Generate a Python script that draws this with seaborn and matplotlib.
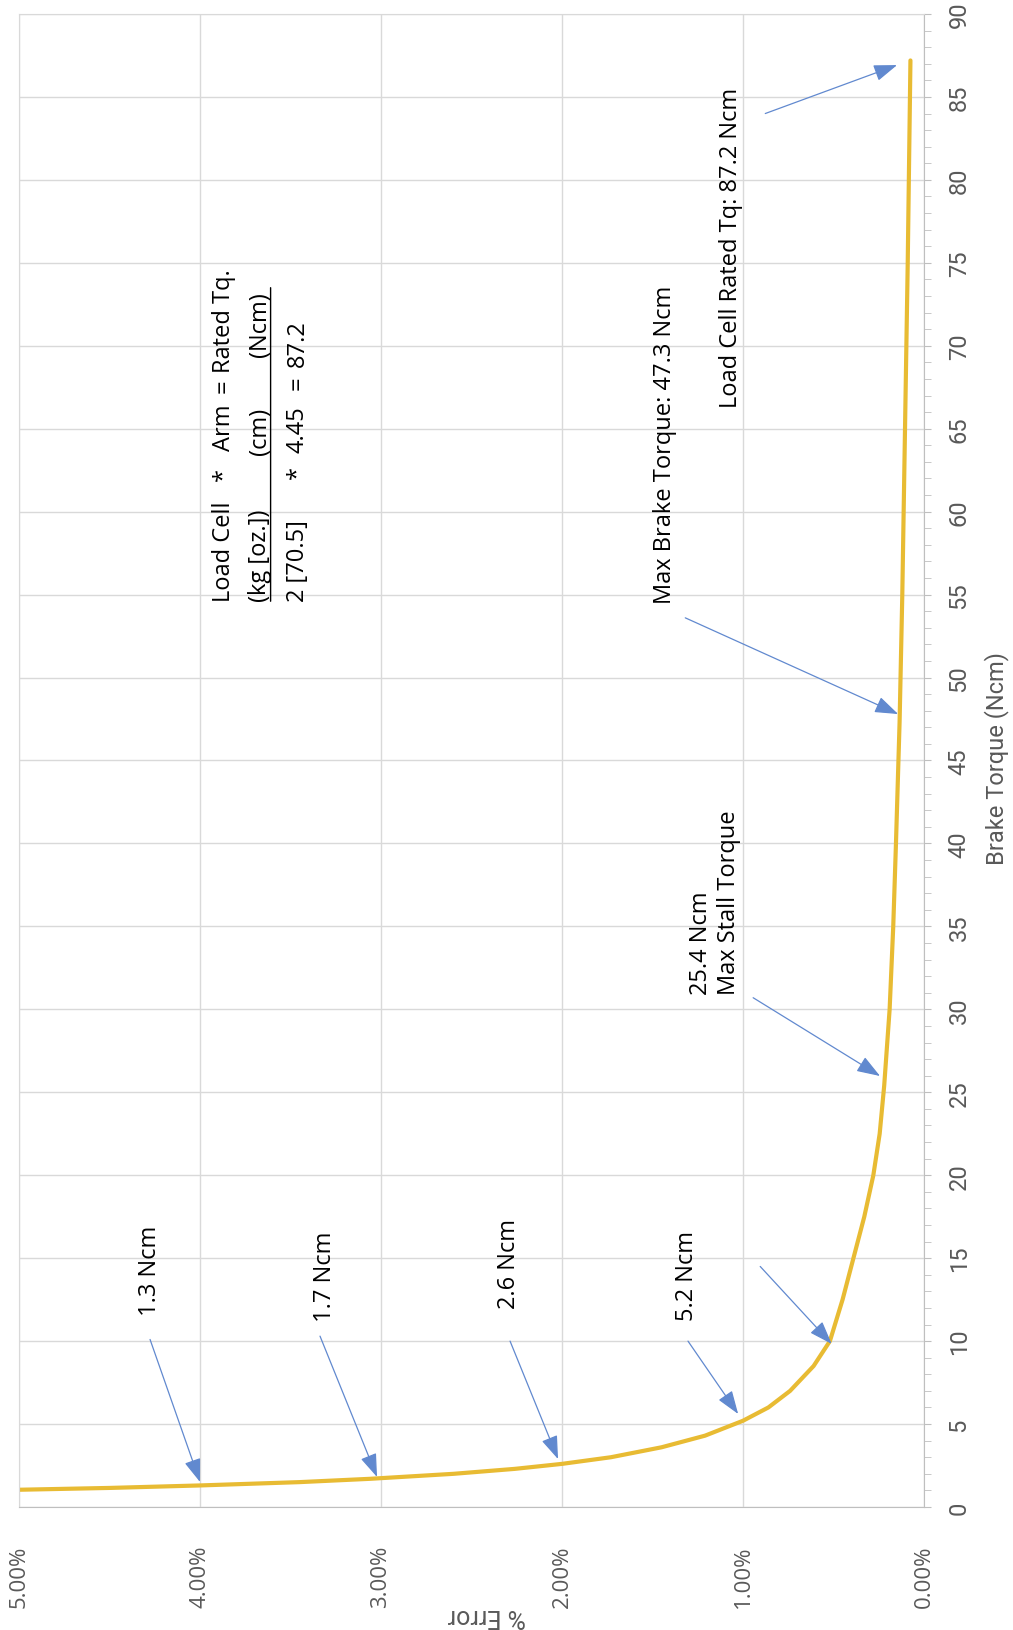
import matplotlib.pyplot as plt
import seaborn as sns
import pandas as pd
from matplotlib import font_manager
from matplotlib.ticker import PercentFormatter, MultipleLocator

sns.set_style("white")

installed = {f.name for f in font_manager.fontManager.ttflist}
narrow = "Liberation Sans Narrow" if "Liberation Sans Narrow" in installed else "Roboto"

plt.rcParams.update({
    "font.family": ["Open Sans", "DejaVu Sans"],
    "font.size": 17,
})

# values (torque in Ncm, error in %)
torque_ncm = [1.04, 1.15, 1.3, 1.5, 1.7, 2.0, 2.3, 2.6, 3.0, 3.6, 4.3, 5.2, 6.0, 7.0, 8.5,
              10.0, 12.5, 15.0, 17.5, 20.0, 22.5, 25.4, 30.0, 35.0, 40.0, 47.3, 55.0,
              65.0, 75.0, 87.2]
error_pct = [5.00, 4.50, 4.00, 3.45, 3.06, 2.60, 2.26, 2.00, 1.73, 1.45, 1.21, 1.00, 0.86,
             0.74, 0.61, 0.52, 0.45, 0.39, 0.33, 0.28, 0.245, 0.22, 0.19, 0.17, 0.155,
             0.135, 0.12, 0.105, 0.09, 0.075]

error_ticks = [0, 1, 2, 3, 4, 5]
torque_ticks = list(range(0, 95, 5))

df = pd.DataFrame({"torque": torque_ncm, "error": error_pct})

fig = plt.figure(figsize=(10.13, 16.31), dpi=100)
ax = fig.add_axes([0.01876, 0.07541, 0.8934, 0.9154])

sns.lineplot(data=df, x="error", y="torque", sort=False, estimator=None,
             color="#e8bb33", lw=3.0, ax=ax)

ax.set_xlim(5, 0)
ax.set_ylim(0, 90)
ax.set_xticks(error_ticks)
ax.set_yticks(torque_ticks)
ax.xaxis.set_minor_locator(MultipleLocator(0.2))
ax.yaxis.set_minor_locator(MultipleLocator(1))
ax.xaxis.set_major_formatter(PercentFormatter(xmax=100, decimals=2))
ax.grid(True, which="major", color="#d9d9d9", lw=1.0)

ax.yaxis.tick_right()
ax.tick_params(axis="x", which="both", direction="out", length=5, color="#bfbfbf",
               labelcolor="#595959", labelrotation=90, labelsize=16, pad=22)
ax.tick_params(axis="y", which="both", direction="out", length=5, color="#bfbfbf",
               labelcolor="#595959", labelrotation=90, labelsize=17, pad=12,
               left=False, right=True, labelleft=False, labelright=True)
for lab in ax.get_yticklabels():
    lab.set_family(narrow)
    lab.set_va("center")

for side in ["right", "bottom"]:
    ax.spines[side].set_color("#bfbfbf")
for side in ["left", "top"]:
    ax.spines[side].set_color("#d9d9d9")

ax.set_xlabel("% Error", rotation=180, fontsize=18, color="#595959", family=narrow)
ax.xaxis.label.set_va("center")
ax.xaxis.set_label_coords(0.517, -0.072)
ax.yaxis.set_label_position("right")
ax.set_ylabel("Brake Torque (Ncm)", rotation=90, fontsize=17, color="#595959", family=narrow)
ax.yaxis.label.set_va("center")
ax.yaxis.set_label_coords(1.0796, 0.5017)

# callouts: (text, text pos, arrow tail, arrow head)
arrow_kw = dict(arrowstyle="-|>,head_length=0.9,head_width=0.32", color="#6189cf",
                lw=0.9, mutation_scale=16, shrinkA=0, shrinkB=0)
callouts = [
    ("1.3 Ncm", (4.276, 11.6), (4.276, 10.1), (4.00, 1.51)),
    ("1.7 Ncm", (3.309, 11.2), (3.337, 10.3), (3.022, 1.81)),
    ("2.6 Ncm", (2.293, 12.0), (2.287, 10.0), (2.022, 2.89)),
    ("5.2 Ncm", (1.309, 11.3), (1.304, 10.0), (1.027, 5.61)),
    ("25.4 Ncm\nMax Stall Torque", (1.156, 30.9), (0.944, 30.7), (0.243, 25.98)),
    ("Max Brake Torque: 47.3 Ncm", (1.429, 54.5), (1.319, 53.6), (0.143, 47.8)),
    ("Load Cell Rated Tq: 87.2 Ncm", (1.065, 66.3), (0.877, 84.0), (0.149, 86.92)),
]
for label, tpos, tail, head in callouts:
    ax.text(*tpos, label, rotation=90, rotation_mode="anchor", ha="left", va="center",
            fontsize=17, linespacing=1.25, color="black")
    ax.annotate("", xy=head, xytext=tail, arrowprops=arrow_kw)
ax.annotate("", xy=(0.51, 9.83), xytext=(0.905, 14.5), arrowprops=arrow_kw)

# rated torque formula
formula = [
    (3.87, [("Load Cell", 54.6), ("*", 61.9), ("Arm", 63.7), ("=", 67.2), ("Rated Tq.", 68.4)]),
    (3.67, [("(kg [oz.])", 54.6), ("(cm)", 63.5), ("(Ncm)", 69.4)]),
    (3.46, [("2 [70.5]", 54.6), ("*", 62.0), ("4.45", 63.6), ("=", 67.4), ("87.2", 68.8)]),
]
for err, tokens in formula:
    for tok, tq in tokens:
        ax.text(err, tq, tok, rotation=90, rotation_mode="anchor", ha="left", va="center",
                fontsize=17, color="black")
ax.annotate("", xy=(3.61, 73.5), xytext=(3.61, 54.6),
            arrowprops=dict(arrowstyle="-", color="black", lw=1.0, shrinkA=0, shrinkB=0))

fig.savefig("out.png", dpi=100)
